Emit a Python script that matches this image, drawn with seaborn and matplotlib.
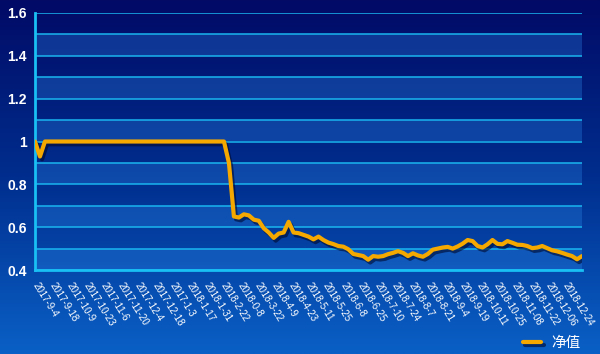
import numpy as np
import pandas as pd
import matplotlib
matplotlib.use("Agg")
import matplotlib.pyplot as plt
import matplotlib.patheffects as pe
from matplotlib.colors import LinearSegmentedColormap
import seaborn as sns

# tick labels along the x axis (one per tick, last tick has no label)
date_labels = [
    "2017-9-4", "2017-9-18", "2017-10-9", "2017-10-23", "2017-11-6", "2017-11-20",
    "2017-12-4", "2017-12-18", "2017-1-3", "2018-1-17", "2018-1-31", "2018-2-22",
    "2018-0-8", "2018-3-22", "2018-4-9", "2018-4-23", "2018-5-11", "2018-5-25",
    "2018-6-8", "2018-6-25", "2018-7-10", "2018-7-24", "2018-8-7", "2018-8-21",
    "2018-9-4", "2018-9-19", "2018-10-11", "2018-10-25", "2018-11-08", "2018-11-22",
    "2018-12-06", "2018-12-24",
]

# net value series, sampled evenly along the axis
nav = [
    1.00, 0.93, 1.00, 1.00, 1.00, 1.00, 1.00, 1.00, 1.00, 1.00,
    1.00, 1.00, 1.00, 1.00, 1.00, 1.00, 1.00, 1.00, 1.00, 1.00,
    1.00, 1.00, 1.00, 1.00, 1.00, 1.00, 1.00, 1.00, 1.00, 1.00,
    1.00, 1.00, 1.00, 1.00, 1.00, 1.00, 1.00, 1.00, 1.00, 0.90,
    0.65, 0.645, 0.66, 0.655, 0.635, 0.63, 0.595, 0.575, 0.55, 0.57,
    0.575, 0.625, 0.575, 0.572, 0.564, 0.556, 0.543, 0.556, 0.54, 0.528,
    0.521, 0.512, 0.509, 0.497, 0.475, 0.47, 0.465, 0.448, 0.465, 0.462,
    0.465, 0.474, 0.48, 0.488, 0.48, 0.465, 0.478, 0.468, 0.462, 0.475,
    0.495, 0.50, 0.505, 0.508, 0.50, 0.51, 0.523, 0.54, 0.535, 0.512,
    0.505, 0.52, 0.54, 0.522, 0.52, 0.535, 0.527, 0.518, 0.517, 0.512,
    0.502, 0.505, 0.512, 0.502, 0.492, 0.487, 0.48, 0.472, 0.465, 0.45,
    0.465,
]

y_ticks = [0.4, 0.6, 0.8, 1.0, 1.2, 1.4, 1.6]
y_tick_labels = ["0.4", "0.6", "0.8", "1", "1.2", "1.4", "1.6"]
series_name = "净值"

n_ticks = len(date_labels) + 1
df = pd.DataFrame({
    "pos": np.linspace(0, n_ticks - 1, len(nav)),
    "nav": nav,
})

sns.set_style("dark")
plt.rcParams["font.family"] = ["Liberation Sans", "Noto Sans CJK SC", "DejaVu Sans"]

fig = plt.figure(figsize=(6, 3.54), dpi=100)

# gradient background over the whole figure
bg = fig.add_axes([0, 0, 1, 1], zorder=-10)
grad_cmap = LinearSegmentedColormap.from_list("bg", ["#020a66", "#002e8e", "#0a60c6"])
bg.imshow(np.linspace(0, 1, 256).reshape(-1, 1), aspect="auto", cmap=grad_cmap,
          extent=[0, 1, 0, 1])
bg.axis("off")

ax = fig.add_axes([35 / 600, 84 / 354, 547 / 600, 257 / 354])
ax.set_facecolor("none")

# lighter alternating bands
for lo in np.arange(0.4, 1.5, 0.2):
    ax.axhspan(lo, lo + 0.1, color="#2a86e6", alpha=0.32, lw=0, zorder=0)
for g in np.arange(0.4, 1.61, 0.1):
    ax.axhline(g, color="#19b6f0", lw=1.1, zorder=1)

sns.lineplot(data=df, x="pos", y="nav", ax=ax, color="#f5a800", lw=3.0,
             label=series_name, zorder=5, legend=False)
line = ax.lines[-1]
line.set_path_effects([pe.SimpleLineShadow(offset=(1.5, -2), shadow_color="#000a30", alpha=0.6),
                       pe.Normal()])

ax.set_xlim(0, n_ticks - 1)
ax.set_ylim(0.4, 1.6)
ax.set_xlabel("")
ax.set_ylabel("")

ax.set_yticks(y_ticks)
ax.set_yticklabels(y_tick_labels, color="white", fontsize=10, fontweight="bold")
ax.set_xticks(np.arange(n_ticks))
ax.set_xticklabels(date_labels + [""], color="white", fontsize=7,
                   rotation=-58, ha="left", va="center", rotation_mode="anchor")
ax.tick_params(axis="both", colors="#19c0f4", length=4, width=1.5, labelcolor="white")
ax.tick_params(axis="x", pad=6)
ax.tick_params(axis="y", pad=2)

for side in ["top", "right"]:
    ax.spines[side].set_visible(False)
for side in ["left", "bottom"]:
    ax.spines[side].set_visible(True)
    ax.spines[side].set_color("#19c0f4")
    ax.spines[side].set_linewidth(2)
ax.grid(False)

handles, labels = ax.get_legend_handles_labels()
leg = fig.legend(handles, labels, loc="lower right", bbox_to_anchor=(0.99, -0.027),
                 frameon=False, fontsize=10.5, handlelength=1.25, handletextpad=0.7,
                 labelcolor="white")

fig.savefig("out.png", dpi=100)
